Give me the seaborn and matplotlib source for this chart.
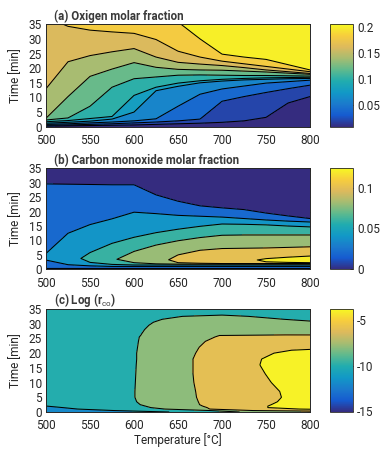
import numpy as np
import matplotlib
matplotlib.use("Agg")
import matplotlib.pyplot as plt
import seaborn as sns
from matplotlib.colors import Normalize
from matplotlib.cm import ScalarMappable

nan = np.nan

# MATLAB parula, every 7th of its 64 entries
PARULA = [(0.2081, 0.1663, 0.5292), (0.0591, 0.3598, 0.8683), (0.0723, 0.4887, 0.8467),
          (0.0265, 0.6137, 0.8135), (0.0843, 0.6928, 0.7062), (0.3482, 0.7424, 0.5473),
          (0.6473, 0.7456, 0.4188), (0.8824, 0.7274, 0.3217), (0.9880, 0.8066, 0.1794),
          (0.9763, 0.9831, 0.0538)]

temps = [500, 525, 550, 575, 600, 625, 650, 675, 700, 725, 750, 775, 800]

# (a) oxygen: time [min] where each level is crossed, per temperature (>35 = above the plot)
o2_levels = [0.02, 0.04, 0.06, 0.08, 0.10, 0.12, 0.14, 0.16, 0.18, 0.20]
o2_cross = [
    [0.2, 0.3, 0.4, 0.5, 0.6, 0.8, 1.0, 1.2, 1.5, 2.0, 3.2, 8.1, 10.3],
    [0.5, 0.6, 0.8, 1.0, 1.3, 1.6, 2.0, 2.6, 8.7, 10.3, 11.7, 13.0, 14.2],
    [0.8, 1.0, 1.3, 1.6, 2.0, 2.7, 7.0, 11.1, 12.9, 13.9, 14.9, 15.4, 15.9],
    [1.2, 1.5, 1.9, 2.6, 5.0, 12.3, 13.8, 15.0, 15.6, 16.0, 16.2, 16.4, 16.5],
    [1.7, 2.1, 2.8, 3.5, 10.7, 13.5, 14.9, 15.7, 16.2, 16.5, 16.7, 16.8, 16.9],
    [2.3, 3.0, 7.0, 13.5, 16.4, 17.0, 17.6, 17.7, 17.6, 17.5, 17.5, 17.4, 17.3],
    [2.9, 10.3, 17.2, 19.7, 21.9, 20.3, 19.6, 19.4, 19.3, 19.0, 18.7, 18.3, 17.9],
    [13.0, 22.2, 24.3, 25.6, 26.7, 23.8, 22.0, 21.4, 20.9, 20.2, 19.4, 18.8, 18.2],
    [37.5, 34.3, 33.0, 32.4, 31.9, 29.8, 25.8, 23.8, 22.4, 21.5, 20.6, 19.7, 18.8],
    [48.0, 46.0, 44.0, 42.0, 40.0, 38.0, 35.8, 30.0, 24.8, 23.8, 23.0, 21.2, 19.4],
]
o2_range = (0.008, 0.205)

# (b) carbon monoxide: peak per temperature, then rise / fall times of each level (nan = not reached)
co_levels = [0.02, 0.04, 0.06, 0.08, 0.10, 0.12]
co_peak_time = [4.3, 4.0, 3.6, 3.5, 3.4, 3.3, 3.3, 3.3, 3.3, 3.3, 3.2, 3.3, 3.3]
co_peak_value = [0.042, 0.053, 0.065, 0.078, 0.087, 0.096, 0.103, 0.108, 0.112, 0.1185, 0.121, 0.122, 0.123]
co_rise = [
    [0.3, 0.3, 0.3, 0.3, 0.3, 0.3, 0.3, 0.3, 0.3, 0.3, 0.3, 0.3, 0.3],
    [3.2, 1.6, 1.2, 1.0, 1.0, 1.0, 1.0, 1.0, 1.0, 1.0, 1.0, 1.0, 1.0],
    [nan, nan, 2.4, 1.7, 1.5, 1.5, 1.5, 1.5, 1.5, 1.5, 1.5, 1.5, 1.5],
    [nan, nan, nan, nan, 2.3, 1.9, 1.8, 1.8, 1.8, 1.8, 1.8, 1.8, 1.8],
    [nan, nan, nan, nan, nan, nan, 2.3, 2.1, 2.0, 2.0, 2.0, 2.0, 2.0],
    [nan, nan, nan, nan, nan, nan, nan, nan, nan, nan, 2.6, 2.4, 2.3],
]
co_fall = [
    [29.6, 29.5, 29.4, 29.3, 29.3, 25.8, 23.6, 22.0, 21.3, 20.7, 19.5, 18.5, 17.6],
    [5.5, 12.5, 15.5, 17.5, 19.8, 19.3, 18.7, 18.4, 18.1, 17.6, 17.1, 16.7, 16.4],
    [nan, nan, 5.8, 9.0, 11.1, 12.7, 13.9, 14.9, 15.7, 15.6, 15.4, 15.0, 14.7],
    [nan, nan, nan, nan, 6.2, 8.4, 9.9, 11.0, 11.8, 11.9, 11.9, 11.9, 11.9],
    [nan, nan, nan, nan, nan, nan, 5.0, 6.6, 7.2, 7.3, 7.4, 7.6, 7.8],
    [nan, nan, nan, nan, nan, nan, nan, nan, nan, nan, 3.7, 4.2, 4.6],
]
co_range = (0.0, 0.1235)

# (c) log(r_co): per time, temperature where each level is reached (nan = not reached on that row)
rate_levels = [-10, -8, -6, -4]
rate_times = [0.0, 0.5, 1.0, 1.5, 2.0, 2.5, 3.5, 5.0, 7.0, 10.0, 13.0, 16.0, 18.0, 20.0,
              21.0, 22.0, 24.0, 25.5, 26.0, 26.5, 28.0, 29.5, 30.5, 31.5, 32.5, 33.5, 35.0]
rate_cross = [
    [640, 577, 536, 519, 501, 480, 480, 480, 480, 480, 480, 480, 480, 480,
     480, 480, 480, 480, 480, 480, 480, 480, 480, 480, 480, 480, 480],
    [720, 686, 635, 619, 613, 607, 603, 601, 601, 601.5, 602, 602.5, 603, 603,
     603.5, 604, 605, 606, 607.5, 608.5, 612, 617, 622, 632, 655, nan, nan],
    [nan, 735, 686, 683, 678, 674.5, 673, 671, 670, 668, 667, 667, 667, 670,
     672, 674, 681, 692, 697, nan, nan, nan, nan, nan, nan, nan, nan],
    [nan, nan, 788, 752, 752, 756, 763, 767.5, 765.5, 756, 749, 743, 745, 759,
     779, nan, nan, nan, nan, nan, nan, nan, nan, nan, nan, nan, nan],
]
rate_peak_temp = [820, 820, 820, 820, 820, 820, 820, 820, 820, 820, 820, 820, 820, 820,
                  820, 820, 820, 820, 820, 700, 700, 700, 700, 700, 700, 700, 700]
rate_peak_value = [-7.0, -5.0, -3.6, -3.3, -3.3, -3.3, -3.3, -3.3, -3.3, -3.3, -3.3, -3.3, -3.3, -3.3,
                   -3.3, -4.6, -4.8, -5.0, -5.6, -6.6, -7.2, -7.5, -7.6, -7.7, -7.85, -8.2, -8.6]
rate_edge_value = [-7.0, -5.0, -3.6, -3.3, -3.3, -3.3, -3.3, -3.3, -3.3, -3.3, -3.3, -3.3, -3.3, -3.3,
                   -3.3, -4.6, -4.8, -5.0, -5.6, -6.8, -7.4, -7.8, -8.1, -8.34, -8.6, -8.8, -9.0]
rate_range = (-15.1, -3.8)

EPS = 1e-7
INK = "#262626"


def grid_o2():
    T = np.array(temps, float)
    t_rows = [np.full(T.size, -1.0)] + [np.array(r, float) for r in o2_cross] + [np.full(T.size, 60.0)]
    z_rows = [0.0] + o2_levels + [0.25]
    Y = np.vstack(t_rows)
    Z = np.repeat(np.array(z_rows)[:, None], T.size, axis=1)
    X = np.tile(T, (Y.shape[0], 1))
    return X, Y, Z


def grid_co():
    T = np.array(temps, float)
    pt = np.array(co_peak_time)
    pz = np.array(co_peak_value)
    t_rows, z_rows = [np.full(T.size, -0.5)], [np.zeros(T.size)]
    for lev, r in zip(co_levels, co_rise):
        r = np.array(r, float)
        t_rows.append(np.where(np.isnan(r), pt, r))
        z_rows.append(np.where(np.isnan(r), pz, lev))
    t_rows.append(pt)
    z_rows.append(pz)
    for lev, f in reversed(list(zip(co_levels, co_fall))):
        f = np.array(f, float)
        t_rows.append(np.where(np.isnan(f), pt, f))
        z_rows.append(np.where(np.isnan(f), pz, lev))
    t_rows.append(np.full(T.size, 40.0))
    z_rows.append(np.full(T.size, 0.005))
    Y = np.vstack(t_rows)
    Z = np.vstack(z_rows)
    X = np.tile(T, (Y.shape[0], 1))
    return X, Y, Z


def grid_rate():
    n = len(rate_times)
    pT = np.array(rate_peak_temp, float)
    pz = np.array(rate_peak_value)
    x_cols, z_cols = [np.full(n, 460.0)], [np.full(n, -10.9)]
    for lev, c in zip(rate_levels, rate_cross):
        c = np.array(c, float)
        x_cols.append(np.where(np.isnan(c), pT, c))
        z_cols.append(np.where(np.isnan(c), pz, lev))
    x_cols += [pT, np.full(n, 850.0)]
    z_cols += [pz, np.array(rate_edge_value)]
    X = np.column_stack(x_cols)
    Z = np.column_stack(z_cols)
    Y = np.repeat(np.array(rate_times)[:, None], X.shape[1], axis=1)
    return X, Y, Z


def draw_panel(ax, cax, X, Y, Z, levels, vrange, below, cticks, clabels, title, xlabel=False):
    norm = Normalize(*vrange)
    cuts = [l - EPS for l in levels]
    fills = [cmap(norm(below))] + [cmap(norm(l)) for l in levels]
    ax.contourf(X, Y, Z, levels=[-100] + cuts + [100], colors=fills)
    ax.contour(X, Y, Z, levels=cuts, colors="black", linewidths=0.75, linestyles="solid")
    ax.set_xlim(500, 800)
    ax.set_ylim(0, 35)
    ax.set_xticks(range(500, 801, 50))
    ax.set_yticks(range(0, 36, 5))
    ax.tick_params(direction="in", length=2.5, width=0.6, top=True, right=True,
                   labelsize=8.5, colors=INK)
    ax.tick_params(axis="x", pad=5.2)
    ax.tick_params(axis="y", pad=3)
    for s in ax.spines.values():
        s.set_linewidth(0.7)
        s.set_color(INK)
    ax.set_ylabel("Time [min]", fontsize=8.5, color=INK)
    ax.yaxis.set_label_coords(-0.09, 0.5)
    if xlabel:
        ax.set_xlabel("Temperature [°C]", fontsize=8.5, color=INK)
        ax.xaxis.set_label_coords(0.5, -0.205)
    ax.text(0.03, 1.045, title, transform=ax.transAxes, ha="left", va="baseline",
            fontsize=8.3, fontweight="bold", color="#3a3a3a")

    cb = fig.colorbar(ScalarMappable(norm=norm, cmap=cmap), cax=cax)
    cb.set_ticks(cticks)
    cb.set_ticklabels(clabels)
    cb.outline.set_linewidth(0.6)
    cb.outline.set_edgecolor(INK)
    cax.tick_params(direction="in", length=2.5, width=0.6, labelsize=8.5, pad=3, colors=INK)


def soften(c, k=0.9):
    # the figure's palette reads slightly duller than the pure colormap
    g = 0.3 * c[0] + 0.59 * c[1] + 0.11 * c[2]
    return tuple(k * v + (1 - k) * g for v in c)


sns.set_theme(style="white")
plt.rcParams["font.family"] = ["Roboto", "DejaVu Sans"]
plt.rcParams["mathtext.fontset"] = "custom"
plt.rcParams["mathtext.rm"] = "Roboto"
cmap = sns.blend_palette([soften(c) for c in PARULA], n_colors=256, as_cmap=True)

fig = plt.figure(figsize=(3.9, 4.49), dpi=100)
boxes = [(0.7178, 0.2281), (0.4002, 0.2249), (0.0824, 0.2294)]
axes = [fig.add_axes([0.118, b, 0.677, h]) for b, h in boxes]
caxes = [fig.add_axes([0.846, b, 0.059, h]) for b, h in boxes]

draw_panel(axes[0], caxes[0], *grid_o2(), o2_levels, o2_range, o2_range[0],
           [0.05, 0.1, 0.15, 0.2], ["0.05", "0.1", "0.15", "0.2"], "(a) Oxigen molar fraction")
draw_panel(axes[1], caxes[1], *grid_co(), co_levels, co_range, co_range[0],
           [0, 0.05, 0.1], ["0", "0.05", "0.1"], "(b) Carbon monoxide molar fraction")
draw_panel(axes[2], caxes[2], *grid_rate(), rate_levels, rate_range, -12,
           [-15, -10, -5], ["-15", "-10", "-5"], r"(c) Log (r$_{\mathrm{co}}$)", xlabel=True)

fig.savefig("out.png", dpi=100)
